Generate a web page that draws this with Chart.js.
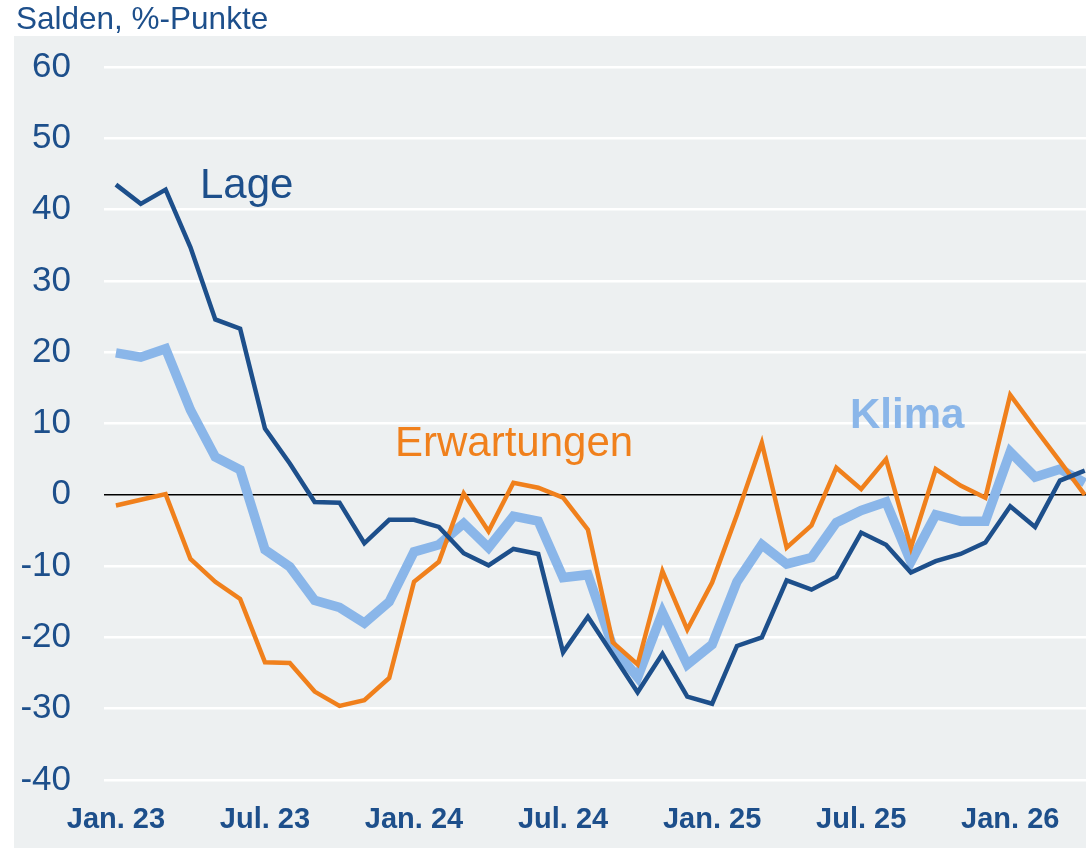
<!DOCTYPE html>
<html>
<head>
<meta charset="utf-8">
<script src="https://cdn.jsdelivr.net/npm/chart.js@4"></script>
<style>
  body { margin: 0; background: #ffffff; }
  #wrap { width: 1086px; height: 848px; position: relative; }
</style>
</head>
<body>
<div id="wrap"><canvas id="chart"></canvas></div>
<script>
// Monthly balances, Jan. 23 .. Apr. 26
const tickLabels = ['Jan. 23', 'Jul. 23', 'Jan. 24', 'Jul. 24', 'Jan. 25', 'Jul. 25', 'Jan. 26'];
const tickEvery = 6;

const lage = [43.5, 40.8, 42.8, 34.7, 24.6, 23.3, 9.3, 4.4, -1.0, -1.1, -6.8, -3.5,
  -3.5, -4.5, -8.2, -9.9, -7.6, -8.3, -22.1, -17.1, -22.4, -27.7, -22.3, -28.3,
  -29.3, -21.2, -20.0, -12.0, -13.3, -11.5, -5.3, -7.0, -10.9, -9.3, -8.3, -6.7,
  -1.6, -4.5, 2.0, 3.4];

const erwartungen = [-1.5, -0.7, 0.1, -9.0, -12.2, -14.6, -23.5, -23.6, -27.6, -29.6, -28.8, -25.7,
  -12.2, -9.4, 0.2, -5.1, 1.7, 1.0, -0.4, -4.9, -20.7, -23.8, -10.7, -18.9,
  -12.3, -2.8, 7.3, -7.4, -4.3, 3.8, 0.8, 5.0, -7.4, 3.6, 1.3, -0.4,
  14.0, 9.3, 4.7, 0.0];

const klima = [19.9, 19.3, 20.5, 11.9, 5.3, 3.5, -7.7, -10.1, -14.8, -15.8, -18.0, -15.0,
  -8.0, -7.0, -4.0, -7.4, -3.0, -3.7, -11.6, -11.2, -21.3, -25.6, -16.5, -23.8,
  -21.0, -12.2, -7.0, -9.7, -8.8, -3.9, -2.2, -1.0, -9.4, -2.8, -3.7, -3.7,
  6.0, 2.5, 3.6, 1.7];

const navy = '#1d4f8b';
const orange = '#f0801c';
const lightBlue = '#8ab6e9';

function toPoints(arr) {
  return arr.map((v, i) => ({ x: i, y: v }));
}

// grey panel, title and series names
const decorations = {
  id: 'decorations',
  beforeDraw(chart) {
    const ctx = chart.ctx;
    ctx.save();
    ctx.fillStyle = '#edf0f1';
    ctx.fillRect(14, 36, chart.width - 14, chart.height - 36);
    ctx.fillStyle = navy;
    ctx.font = '31.5px "Liberation Sans", Arial, sans-serif';
    ctx.textBaseline = 'alphabetic';
    ctx.fillText('Salden, %-Punkte', 16, 29);
    ctx.restore();
  },
  afterDatasetsDraw(chart) {
    const ctx = chart.ctx;
    ctx.save();
    ctx.textBaseline = 'alphabetic';
    ctx.font = '42px "Liberation Sans", Arial, sans-serif';
    ctx.fillStyle = navy;
    ctx.fillText('Lage', 200, 198);
    ctx.fillStyle = orange;
    ctx.fillText('Erwartungen', 395, 456);
    ctx.font = 'bold 42px "Liberation Sans", Arial, sans-serif';
    ctx.fillStyle = lightBlue;
    ctx.fillText('Klima', 850, 428);
    ctx.restore();
  }
};

new Chart(document.getElementById('chart'), {
  type: 'line',
  data: {
    datasets: [
      {
        label: 'Lage',
        data: toPoints(lage),
        borderColor: navy,
        borderWidth: 4.5,
        pointRadius: 0,
        tension: 0
      },
      {
        label: 'Erwartungen',
        data: toPoints(erwartungen),
        borderColor: orange,
        borderWidth: 4.5,
        pointRadius: 0,
        tension: 0
      },
      {
        label: 'Klima',
        data: toPoints(klima),
        borderColor: lightBlue,
        borderWidth: 9.5,
        pointRadius: 0,
        tension: 0
      }
    ]
  },
  options: {
    responsive: true,
    maintainAspectRatio: false,
    animation: false,
    layout: {
      padding: { top: 67, left: 0, right: 0, bottom: 0 }
    },
    plugins: {
      legend: { display: false },
      tooltip: { enabled: false }
    },
    scales: {
      x: {
        type: 'linear',
        min: -0.48,
        max: 39.05,
        grid: { display: false },
        border: { display: false },
        afterBuildTicks: function(scale) {
          scale.ticks = tickLabels.map((t, i) => ({ value: i * tickEvery }));
        },
        afterFit: function(scale) {
          scale.height = 68;
        },
        ticks: {
          color: navy,
          padding: 15,
          maxRotation: 0,
          autoSkip: false,
          font: { family: '"Liberation Sans", Arial, sans-serif', size: 29, weight: 'bold' },
          callback: function(value) {
            return tickLabels[value / tickEvery];
          }
        }
      },
      y: {
        min: -40,
        max: 60,
        border: { display: false },
        afterFit: function(scale) {
          scale.width = 104;
        },
        grid: {
          drawTicks: false,
          color: function(c) {
            return c.tick && c.tick.value === 0 ? '#000000' : '#ffffff';
          },
          lineWidth: function(c) {
            return c.tick && c.tick.value === 0 ? 1.5 : 2.5;
          }
        },
        ticks: {
          stepSize: 10,
          color: navy,
          padding: 33,
          font: { family: '"Liberation Sans", Arial, sans-serif', size: 35 }
        }
      }
    }
  },
  plugins: [decorations]
});
</script>
</body>
</html>
